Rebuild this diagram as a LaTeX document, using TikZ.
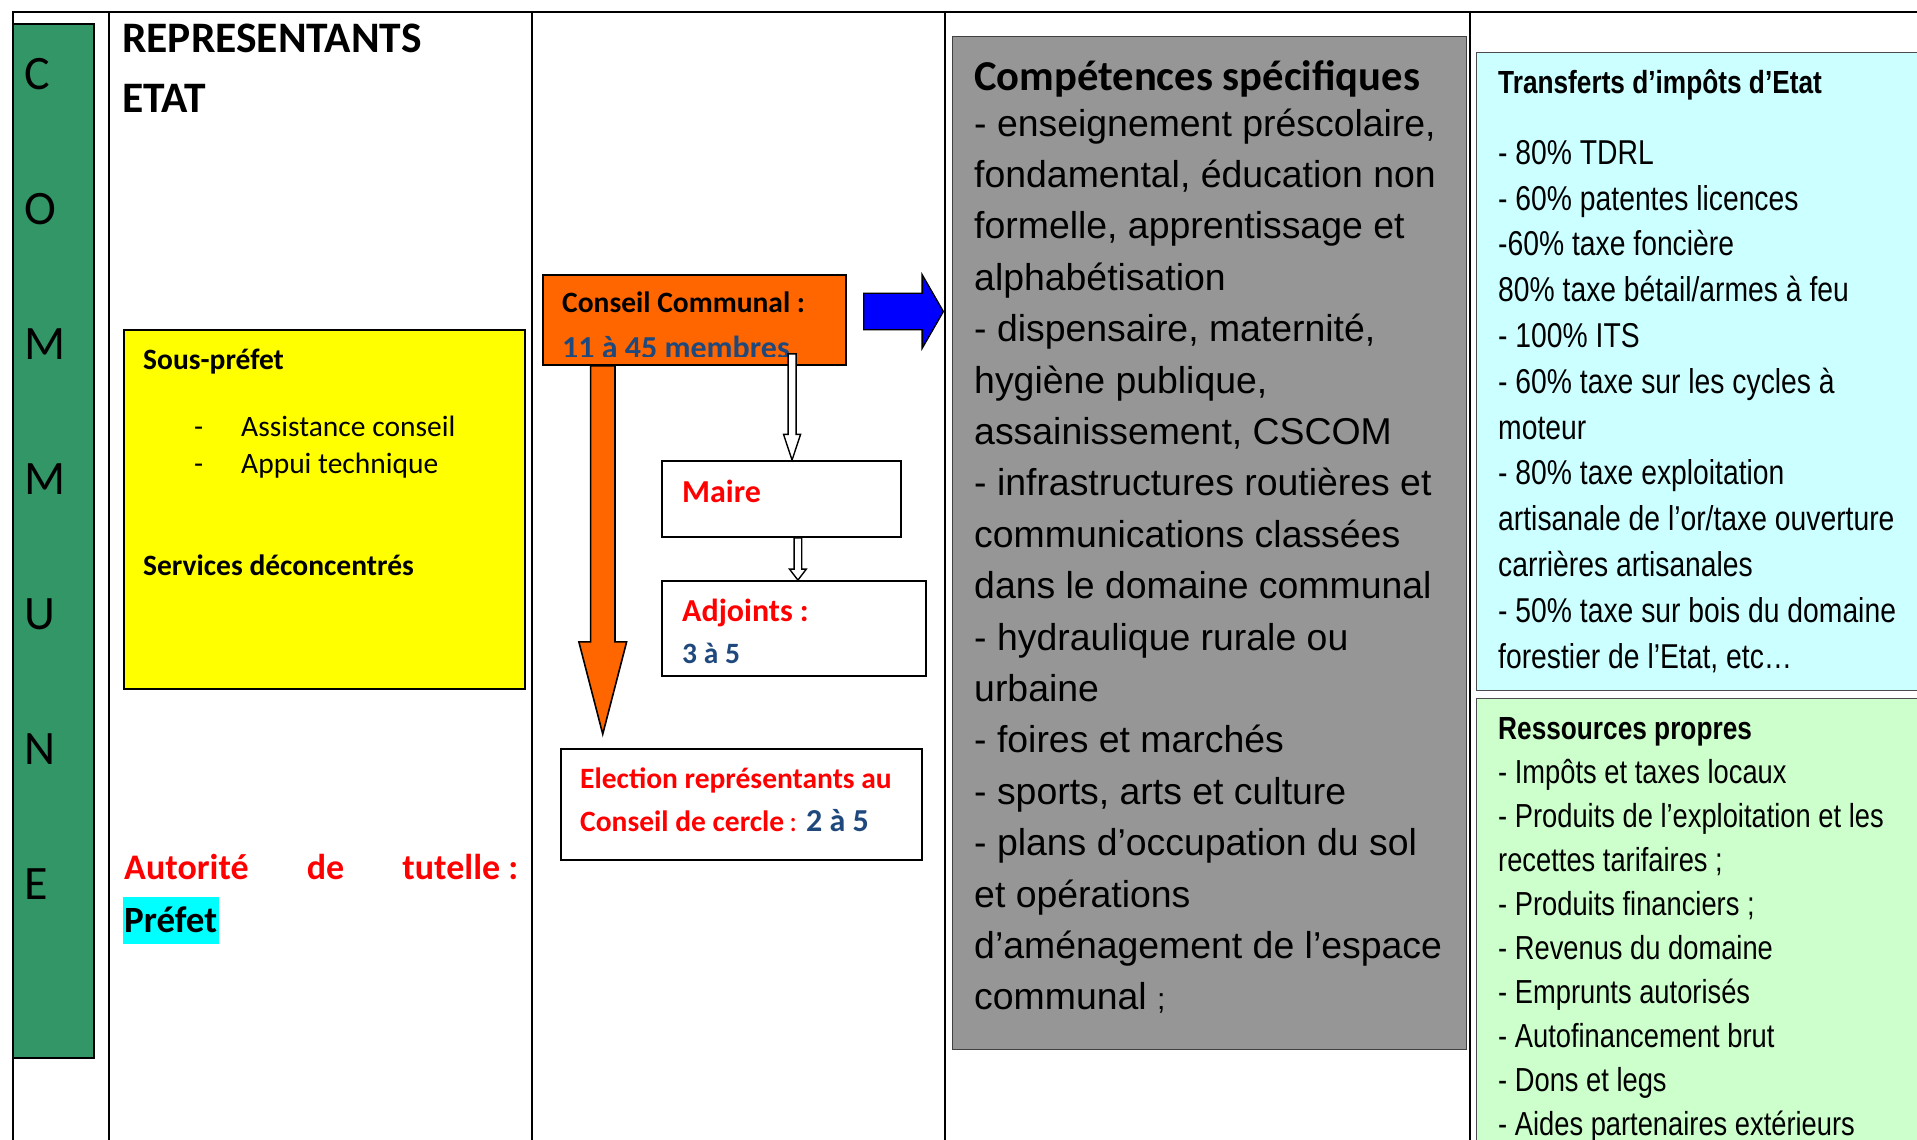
\documentclass[tikz,border=0pt]{standalone}
\usepackage{fontspec}
\setmainfont{Carlito}
\newfontfamily\arialfont{Liberation Sans}
\newfontfamily\narrowfont{Liberation Sans}[FakeStretch=0.82]
\usetikzlibrary{calc, positioning}
\definecolor{CommuneGreen}{RGB}{51,150,102}
\definecolor{Jaune}{RGB}{255,255,0}
\definecolor{ConseilOrange}{RGB}{255,102,0}
\definecolor{FlecheBleu}{RGB}{0,0,255}
\definecolor{Gris}{RGB}{150,150,150}
\definecolor{CielClair}{RGB}{204,255,255}
\definecolor{VertClair}{RGB}{204,255,204}
\definecolor{BleuTexte}{RGB}{31,73,125}
\definecolor{Rouge}{RGB}{255,0,0}
\definecolor{Surligne}{RGB}{0,255,255}

% block arrow pointing down: style, from, to, half shaft, half head, head length
\newcommand{\blockdown}[6]{%
  \draw[#1] let \p1=(#2), \p2=(#3) in
    (\x1-#4,\y1) -- (\x1-#4,\y2+#6) -- (\x1-#5,\y2+#6) -- (\x1,\y2)
    -- (\x1+#5,\y2+#6) -- (\x1+#4,\y2+#6) -- (\x1+#4,\y1) -- cycle;}

\begin{document}
\begin{tikzpicture}[
  x=1pt, y=-1pt,
  rule/.style={line width=2.2pt},
  box/.style={draw, line width=1.8pt, inner sep=0pt},
  fleche/.style={draw, line width=1.6pt, line join=miter},
  txt/.style={anchor=base west, inner sep=0pt},
  cal/.style={font=\fontsize{29.5}{35}\selectfont},
  calb/.style={font=\fontsize{29.5}{35}\selectfont\bfseries},
  calbig/.style={font=\fontsize{32}{38}\selectfont\bfseries},
  arial/.style={font=\arialfont\fontsize{37.4}{44}\selectfont},
  narrow/.style={font=\narrowfont\fontsize{34.5}{40}\selectfont},
  narrowsm/.style={font=\narrowfont\fontsize{33.3}{40}\selectfont},
  narrowb/.style={font=\narrowfont\bfseries\fontsize{32}{38}\selectfont},
]
\useasboundingbox (0,0) rectangle (1917,1140);
\fill[white] (0,0) rectangle (1917,1140);
\clip (0,0) rectangle (1917,1140);

% Table rules
\draw[rule] (13,1150) -- (13,12) -- (1930,12);
\foreach \x in {109,532,945,1470} \draw[rule] (\x,12) -- (\x,1150);

% Column: commune
\node[box, fill=CommuneGreen, minimum width=81pt, minimum height=1034pt] (commune) at (53.5,541) {};
\foreach \l [count=\i from 0] in {C,O,M,M,U,N,E}
  \node[txt, font=\fontsize{48}{52}\selectfont] (lettre\i) at (24.5,{89+135*\i}) {\l};

% Column: representants etat
\node[txt, font=\fontsize{43.5}{50}\selectfont\bfseries] (rep) at (122,52.7) {REPRESENTANTS};
\node[txt, font=\fontsize{43.5}{50}\selectfont\bfseries] (etatlbl) at (122,112.7) {ETAT};
\node[box, fill=Jaune, minimum width=401pt, minimum height=359pt] (etat) at (324.5,509.5) {};
\node[txt, calb] (sousprefet) at (143,369) {Sous-préfet};
\node[txt, cal] (tiret1) at (194,436) {-};
\node[txt, cal] (assist) at (241,436) {Assistance conseil};
\node[txt, cal] (tiret2) at (194,473) {-};
\node[txt, cal] (appui) at (241,473) {Appui technique};
\node[txt, calb] (services) at (143,575) {Services déconcentrés};
\node[txt, text=Rouge, font=\fontsize{36}{40}\selectfont\bfseries] (tutelle) at (124,879)
  {\hbox to 394pt{Autorité\hfill de\hfill tutelle :}};
\node[txt, fill=Surligne, inner xsep=1.5pt, text height=35pt, text depth=12pt,
  font=\fontsize{37}{40}\selectfont\bfseries] (prefet) at (122.5,932) {Préfet};

% Column: organes communaux
\node[box, fill=ConseilOrange, minimum width=303.5pt, minimum height=90pt] (conseil) at (694.4,320) {};
\node[txt, calb] (conseillbl) at (562,312.7) {Conseil Communal :};
\begin{scope}
  \clip (conseil.north west) rectangle ($(conseil.south east)+(0,-9.3)$);
  \node[txt, calbig, text=BleuTexte] (membres) at (562,358.5) {11 à 45 membres};
\end{scope}
\node[box, fill=white, minimum width=239pt, minimum height=76pt] (maire) at (781.5,499) {};
\node[txt, calbig, text=Rouge] (mairelbl) at (682,502.7) {Maire};
\node[box, fill=white, minimum width=264pt, minimum height=95pt] (adjoints) at (794,628.5) {};
\node[txt, calbig, text=Rouge] (adjlbl) at (682,621.7) {Adjoints :};
\node[txt, calb, text=BleuTexte] (adjnb) at (682,663) {3 à 5};
\node[box, fill=white, minimum width=361pt, minimum height=111pt] (election) at (741.4,804.5) {};
\node[txt, calb, text=Rouge] (elecl1) at (580,788) {Election représentants au};
\node[txt, calb, text=Rouge] (elecl2) at (580,831)
  {Conseil de cercle{\mdseries\,:} \textcolor{BleuTexte}{\fontsize{32}{36}\selectfont 2 à 5}};

% Column: competences
\node[box, fill=Gris, draw=black!75, line width=1.2pt, minimum width=514pt, minimum height=1013pt] (competences) at (1209.5,542.7) {};
\node[txt, font=\fontsize{42.6}{50}\selectfont\bfseries] (comptitre) at (974,90.5) {Compétences spécifiques};
\foreach \t [count=\i from 0] in {
  {- enseignement préscolaire,}, {fondamental, éducation non}, {formelle, apprentissage et},
  {alphabétisation}, {- dispensaire, maternité,}, {hygiène publique,},
  {assainissement, CSCOM}, {- infrastructures routières et}, {communications classées},
  {dans le domaine communal}, {- hydraulique rurale ou}, {urbaine},
  {- foires et marchés}, {- sports, arts et culture}, {- plans d’occupation du sol},
  {et opérations}, {d’aménagement de l’espace}, {communal {\fontsize{30}{36}\selectfont;}}}
  \node[txt, arial] (comp\i) at (974,{136+51.4*\i}) {\t};

% Column: ressources
\node[box, fill=CielClair, draw=black!70, line width=1.2pt, minimum width=460pt, minimum height=638pt, anchor=north west] (transferts) at (1476,52) {};
\node[txt, narrowb] (trtitre) at (1498,93.2) {Transferts d’impôts d’Etat};
\foreach \t [count=\i from 0] in {
  {- 80\% TDRL}, {- 60\% patentes licences}, {-60\% taxe foncière},
  {80\% taxe bétail/armes à feu}, {- 100\% ITS}, {- 60\% taxe sur les cycles à},
  {moteur}, {- 80\% taxe exploitation}, {artisanale de l’or/taxe ouverture},
  {carrières artisanales}, {- 50\% taxe sur bois du domaine}, {forestier de l’Etat, etc…}}
  \node[txt, narrow] (tr\i) at (1498,{164.2+45.8*\i}) {\t};
\node[box, fill=VertClair, draw=black!70, line width=1.2pt, minimum width=460pt, minimum height=470pt, anchor=north west] (ressources) at (1476,698) {};
\node[txt, narrowb] (rptitre) at (1498,739.8) {Ressources propres};
\foreach \t [count=\i from 0] in {
  {- Impôts et taxes locaux}, {- Produits de l’exploitation et les}, {recettes tarifaires ;},
  {- Produits financiers ;}, {- Revenus du domaine}, {- Emprunts autorisés},
  {- Autofinancement brut}, {- Dons et legs}, {- Aides partenaires extérieurs}}
  \node[txt, narrowsm] (rp\i) at (1498,{783.2+44*\i}) {\t};

% Arrows
\blockdown{fleche, fill=ConseilOrange}{$(conseil.south west)+(61,0)$}{$(election.north west)+(43,-14)$}{12.2pt}{23.9pt}{92.3pt}
\coordinate (versmaire) at ($(conseil.south east)+(-55,-12)$);
\blockdown{fleche, fill=white, line width=1.4pt}{versmaire}{versmaire |- maire.north}{4pt}{8.5pt}{25.7pt}
\coordinate (versadj) at ($(maire.south east)+(-104,0)$);
\blockdown{fleche, fill=white, line width=1.4pt}{versadj}{versadj |- adjoints.north}{3.8pt}{8.4pt}{11pt}
\draw[fleche, fill=FlecheBleu, line width=1.3pt] let \p1=($(conseil.east)+(16.7,-8.5)$), \p2=($(competences.west)+(-8.5,0)$) in
  (\x1,\y1-18.3pt) -- (\x2-21.3pt,\y1-18.3pt) -- (\x2-21.3pt,\y1-37pt) -- (\x2,\y1)
  -- (\x2-21.3pt,\y1+37pt) -- (\x2-21.3pt,\y1+18.3pt) -- (\x1,\y1+18.3pt) -- cycle;

\end{tikzpicture}
\end{document}
